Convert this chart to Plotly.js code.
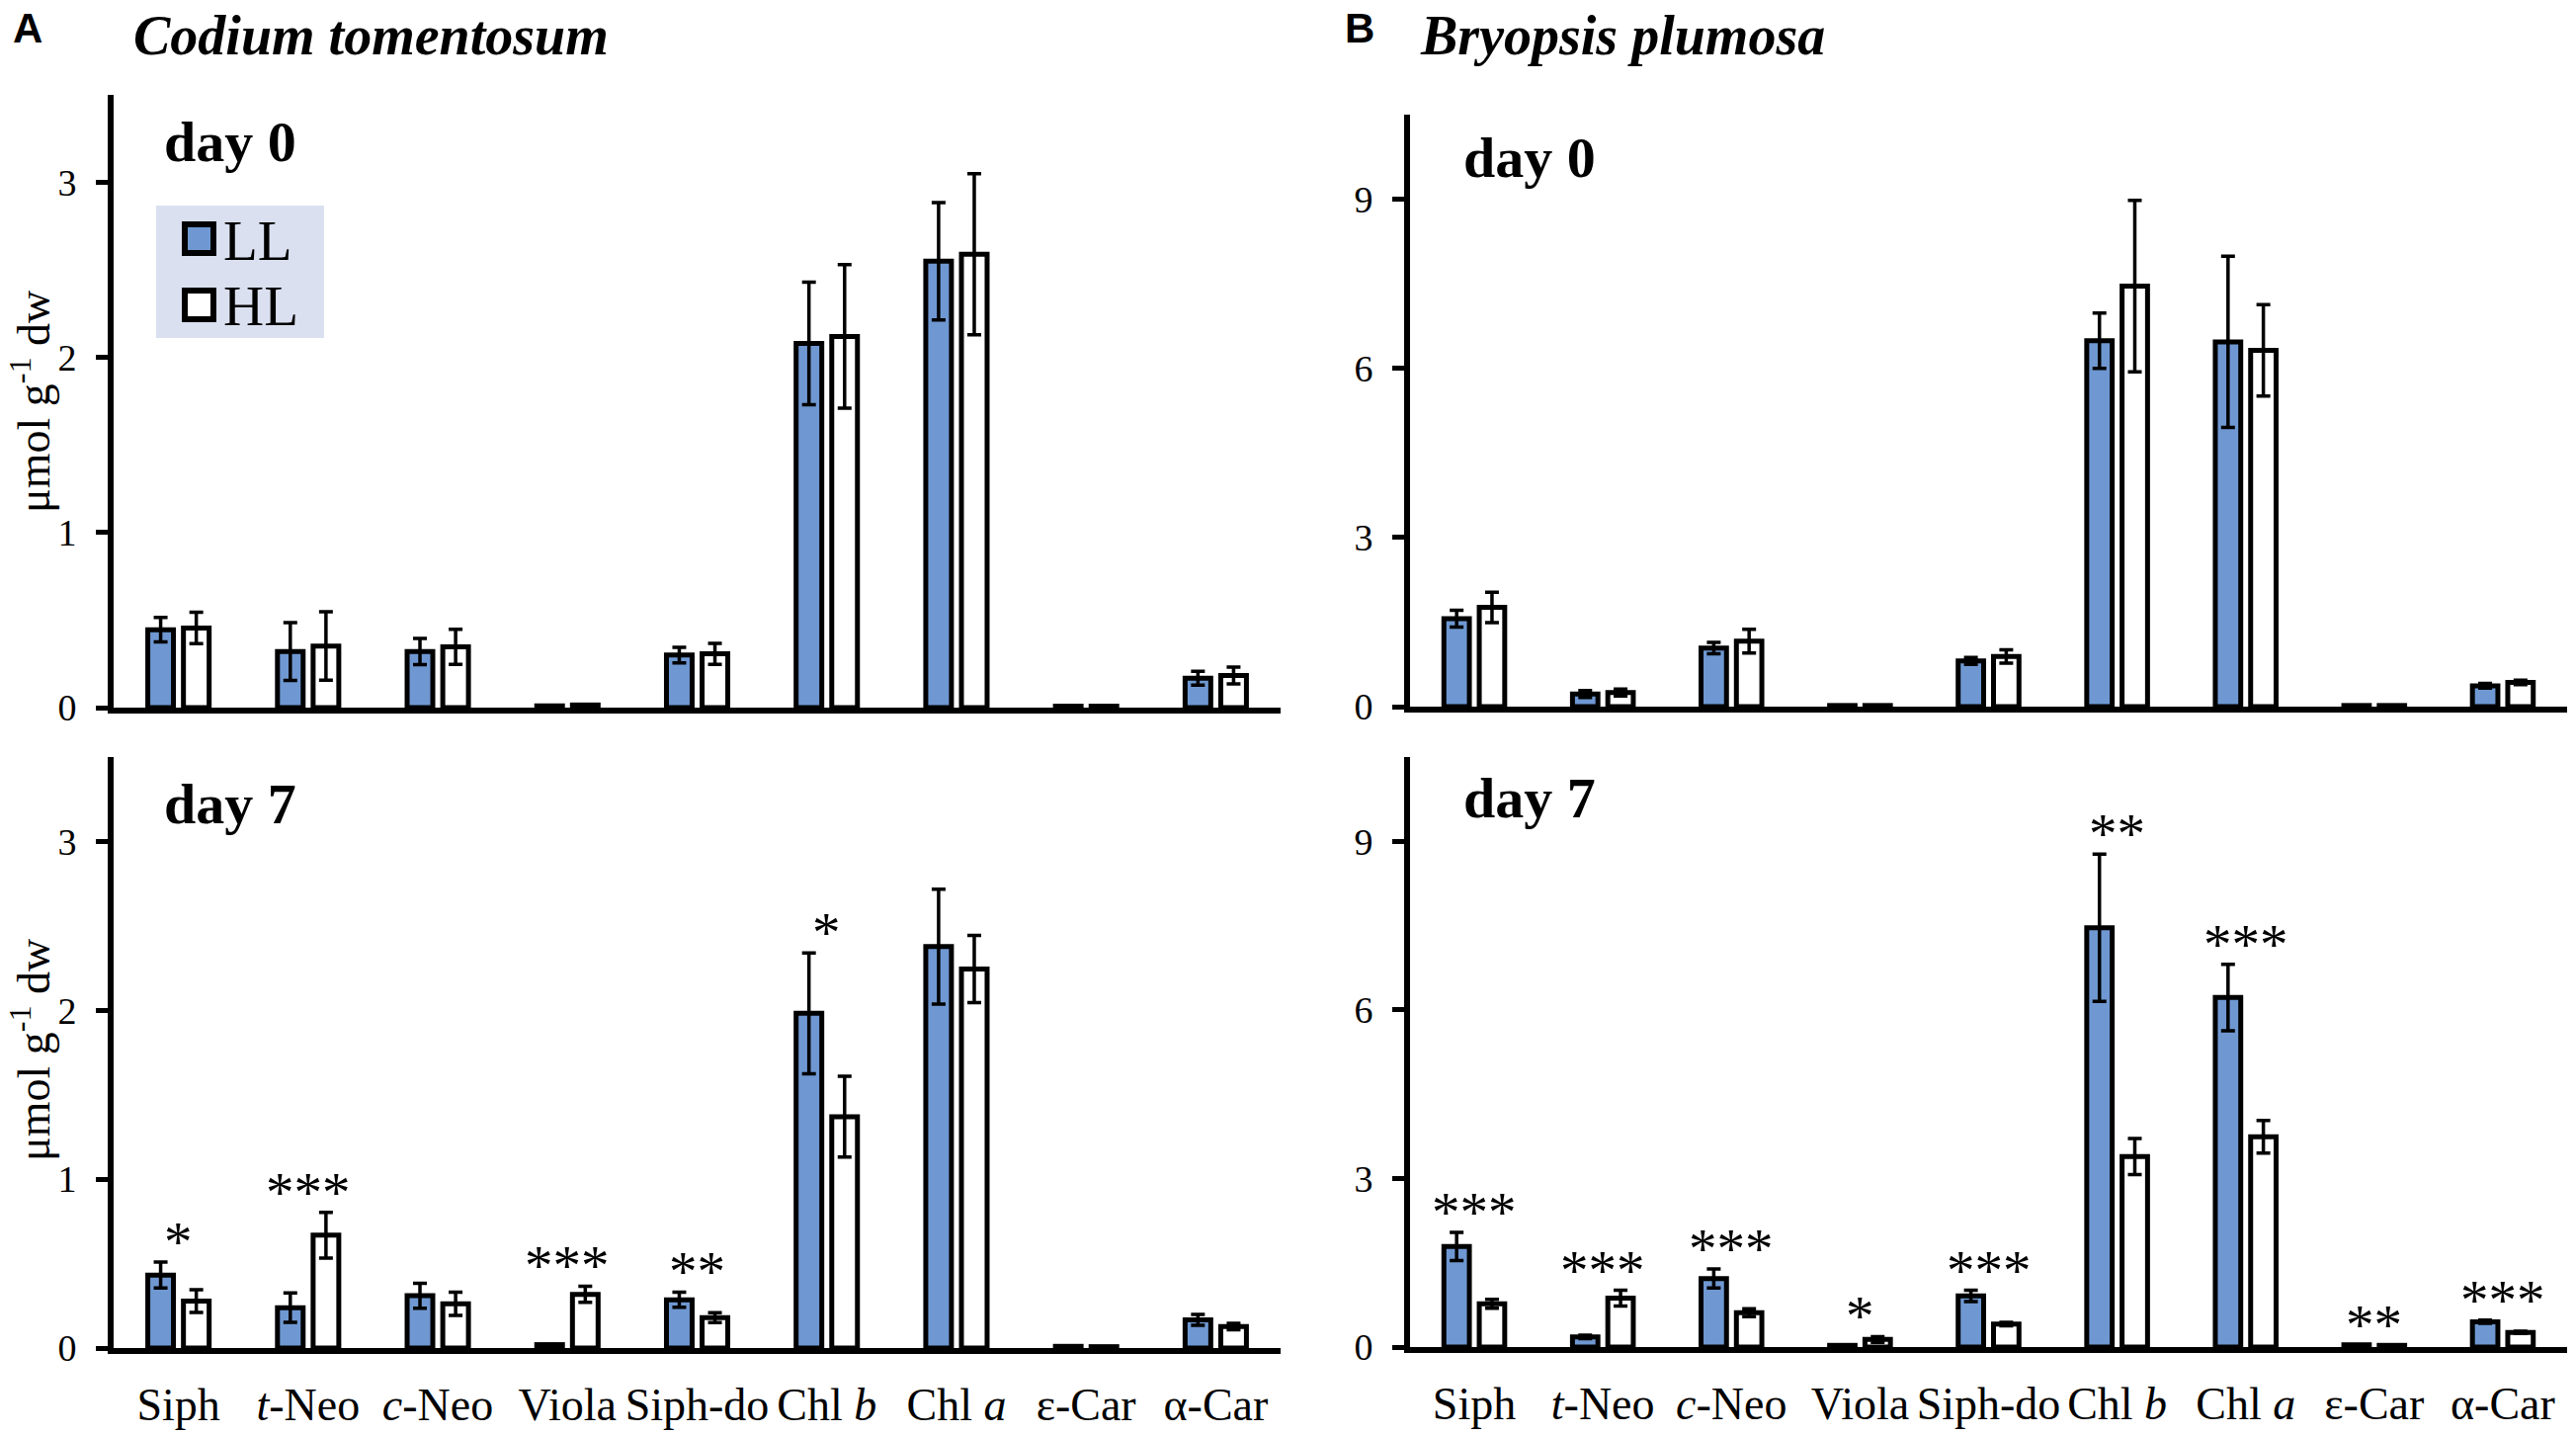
<!DOCTYPE html>
<html>
<head>
<meta charset="utf-8">
<script src="https://cdn.plot.ly/plotly-3.0.1.min.js"></script>
<style>html,body{margin:0;padding:0;background:#fff;}#chart{width:2607px;height:1452px;}</style>
</head>
<body>
<div id="chart"></div>
<script>
// ---------- data ----------
const categories = ['Siph', 't-Neo', 'c-Neo', 'Viola', 'Siph-do', 'Chl b', 'Chl a', 'ε-Car', 'α-Car'];
const tickLabels = ['Siph', '<i>t</i>-Neo', '<i>c</i>-Neo', 'Viola', 'Siph-do', 'Chl <i>b</i>', 'Chl <i>a</i>', 'ε-Car', 'α-Car'];
const seriesNames = ['LL', 'HL'];

// Codium tomentosum, day 0
const cod0_LL     = [0.445, 0.320, 0.320, 0.010, 0.300, 2.080, 2.550, 0.008, 0.168];
const cod0_LL_err = [0.070, 0.165, 0.075, 0.000, 0.045, 0.350, 0.335, 0.000, 0.040];
const cod0_HL     = [0.455, 0.352, 0.347, 0.015, 0.307, 2.120, 2.590, 0.008, 0.184];
const cod0_HL_err = [0.090, 0.195, 0.100, 0.000, 0.060, 0.410, 0.460, 0.000, 0.048];

// Codium tomentosum, day 7
const cod7_LL     = [0.432, 0.239, 0.310, 0.020, 0.286, 1.982, 2.377, 0.010, 0.167];
const cod7_LL_err = [0.077, 0.087, 0.074, 0.000, 0.045, 0.358, 0.340, 0.000, 0.032];
const cod7_HL     = [0.278, 0.668, 0.262, 0.318, 0.180, 1.370, 2.245, 0.008, 0.127];
const cod7_HL_err = [0.067, 0.135, 0.069, 0.048, 0.029, 0.239, 0.199, 0.000, 0.019];
const cod7_sig    = ['*', '***', '', '***', '**', '*', '', '', ''];

// Bryopsis plumosa, day 0
const bry0_LL     = [1.56, 0.224, 1.04, 0.02, 0.81, 6.49, 6.47, 0.02, 0.37];
const bry0_LL_err = [0.15, 0.060, 0.10, 0.00, 0.06, 0.49, 1.52, 0.00, 0.04];
const bry0_HL     = [1.76, 0.250, 1.16, 0.02, 0.89, 7.46, 6.32, 0.02, 0.43];
const bry0_HL_err = [0.27, 0.060, 0.21, 0.00, 0.12, 1.52, 0.81, 0.00, 0.04];

// Bryopsis plumosa, day 7
const bry7_LL     = [1.79, 0.18, 1.22, 0.03, 0.91, 7.46, 6.22, 0.04, 0.45];
const bry7_LL_err = [0.25, 0.03, 0.17, 0.00, 0.10, 1.31, 0.59, 0.00, 0.03];
const bry7_HL     = [0.77, 0.87, 0.61, 0.135, 0.41, 3.39, 3.74, 0.03, 0.26];
const bry7_HL_err = [0.08, 0.14, 0.07, 0.05, 0.03, 0.32, 0.29, 0.00, 0.02];
const bry7_sig    = ['***', '***', '***', '*', '***', '**', '***', '**', '***'];

const codTicks = [0, 1, 2, 3];
const bryTicks = [0, 3, 6, 9];
const yUnitLabel = 'μmol g<sup>-1</sup> dw';

// ---------- styles ----------
const W = 2607, H = 1452;
const SERIF = 'Liberation Serif, Times New Roman, serif';
const SANS = 'Liberation Sans, Arial, sans-serif';
const BLUE = '#6f98d2';
const fillColors = [BLUE, '#ffffff'];
const px = v => v / W;
const py = v => 1 - v / H;

function barTrace(name, idx, y, err, xa, ya) {
  return {
    type: 'bar', name: name, x: categories, y: y,
    xaxis: xa, yaxis: ya, showlegend: false,
    marker: { color: fillColors[idx], line: { color: '#000', width: 5 } },
    error_y: { type: 'data', array: err, visible: true, color: '#000', thickness: 3.5, width: 7 },
    hoverinfo: 'x+y+name'
  };
}

const traces = [
  barTrace(seriesNames[0], 0, cod0_LL, cod0_LL_err, 'x', 'y'),
  barTrace(seriesNames[1], 1, cod0_HL, cod0_HL_err, 'x', 'y'),
  barTrace(seriesNames[0], 0, bry0_LL, bry0_LL_err, 'x2', 'y2'),
  barTrace(seriesNames[1], 1, bry0_HL, bry0_HL_err, 'x2', 'y2'),
  barTrace(seriesNames[0], 0, cod7_LL, cod7_LL_err, 'x3', 'y3'),
  barTrace(seriesNames[1], 1, cod7_HL, cod7_HL_err, 'x3', 'y3'),
  barTrace(seriesNames[0], 0, bry7_LL, bry7_LL_err, 'x4', 'y4'),
  barTrace(seriesNames[1], 1, bry7_HL, bry7_HL_err, 'x4', 'y4')
];

function xAxis(domain, anchor, labels) {
  return {
    domain: domain, anchor: anchor, type: 'category',
    categoryorder: 'array', categoryarray: categories,
    tickmode: 'array', tickvals: categories, ticktext: tickLabels,
    showticklabels: labels, ticks: '', showgrid: false, zeroline: false,
    showline: true, linecolor: '#000', linewidth: 6,
    tickfont: { family: SERIF, size: 46, color: '#000' },
    ticklabelstandoff: 12, fixedrange: true
  };
}
function yAxis(domain, anchor, range, ticks) {
  return {
    domain: domain, anchor: anchor, range: range,
    tickmode: 'array', tickvals: ticks,
    ticks: 'outside', ticklen: 12, tickwidth: 5, tickcolor: '#000',
    showgrid: false, zeroline: false,
    showline: true, linecolor: '#000', linewidth: 6,
    tickfont: { family: SERIF, size: 38, color: '#000' },
    ticklabelstandoff: 12, fixedrange: true
  };
}

const xA = [px(115), px(1296)];
const xB = [px(1427), px(2598)];

const annotations = [];
function txt(x, y, text, size, family, xanchor, angle) {
  annotations.push({ xref: 'paper', yref: 'paper', x: x, y: y, text: text, showarrow: false,
    xanchor: xanchor || 'left', yanchor: 'middle', textangle: angle || 0, borderpad: 0,
    font: { family: family, size: size, color: '#000' } });
}
txt(px(12), py(29), '<b>A</b>', 42, SANS);
txt(px(134), py(36), '<b><i>Codium tomentosum</i></b>', 56, SERIF);
txt(px(1360), py(29), '<b>B</b>', 42, SANS);
txt(px(1436), py(36), '<b><i>Bryopsis plumosa</i></b>', 56, SERIF);
txt(px(165), py(143), '<b>day 0</b>', 58, SERIF);
txt(px(165), py(813), '<b>day 7</b>', 58, SERIF);
txt(px(1480), py(159), '<b>day 0</b>', 58, SERIF);
txt(px(1480), py(807), '<b>day 7</b>', 58, SERIF);
// y-axis titles (panel A only)
txt(px(31), py(406), yUnitLabel, 46, SERIF, 'center', -90);
txt(px(31), py(1062), yUnitLabel, 46, SERIF, 'center', -90);

function stars(sig, ll, llErr, hl, hlErr, xa, ya) {
  sig.forEach((s, i) => {
    if (!s) return;
    const top = Math.max(ll[i] + llErr[i], hl[i] + hlErr[i]);
    annotations.push({ xref: xa, yref: ya, x: i, y: top, text: s, showarrow: false,
      xanchor: 'center', yanchor: 'bottom', yshift: -13,
      font: { family: SERIF, size: 57, color: '#000' } });
  });
}
stars(cod7_sig, cod7_LL, cod7_LL_err, cod7_HL, cod7_HL_err, 'x3', 'y3');
stars(bry7_sig, bry7_LL, bry7_LL_err, bry7_HL, bry7_HL_err, 'x4', 'y4');

// legend (panel A, day 0)
const shapes = [
  { type: 'rect', xref: 'paper', yref: 'paper', x0: px(158), x1: px(328), y0: py(342), y1: py(208),
    fillcolor: '#dbe0f0', line: { width: 0 }, layer: 'below' },
  { type: 'rect', xref: 'paper', yref: 'paper', x0: px(187), x1: px(216), y0: py(256), y1: py(227),
    fillcolor: fillColors[0], line: { color: '#000', width: 6 } },
  { type: 'rect', xref: 'paper', yref: 'paper', x0: px(187), x1: px(216), y0: py(323), y1: py(294),
    fillcolor: fillColors[1], line: { color: '#000', width: 6 } }
];
txt(px(225), py(243), seriesNames[0], 57, SERIF);
txt(px(225), py(309), seriesNames[1], 57, SERIF);

const layout = {
  width: W, height: H, autosize: false,
  margin: { l: 0, r: 0, t: 0, b: 0, pad: 0 },
  paper_bgcolor: '#fff', plot_bgcolor: 'rgba(0,0,0,0)',
  barmode: 'group', bargap: 0.45, bargroupgap: 0.28,
  showlegend: false,
  font: { family: SERIF, color: '#000' },
  xaxis:  xAxis(xA, 'y', false),
  yaxis:  yAxis([py(716), py(96)], 'x', [0, 3.5], codTicks),
  xaxis2: xAxis(xB, 'y2', false),
  yaxis2: yAxis([py(715), py(116)], 'x2', [0, 10.5], bryTicks),
  xaxis3: xAxis(xA, 'y3', true),
  yaxis3: yAxis([py(1364), py(766)], 'x3', [0, 3.5], codTicks),
  xaxis4: xAxis(xB, 'y4', true),
  yaxis4: yAxis([py(1363), py(766)], 'x4', [0, 10.5], bryTicks),
  annotations: annotations,
  shapes: shapes
};

Plotly.newPlot('chart', traces, layout, { staticPlot: true, displayModeBar: false });
</script>
</body>
</html>
